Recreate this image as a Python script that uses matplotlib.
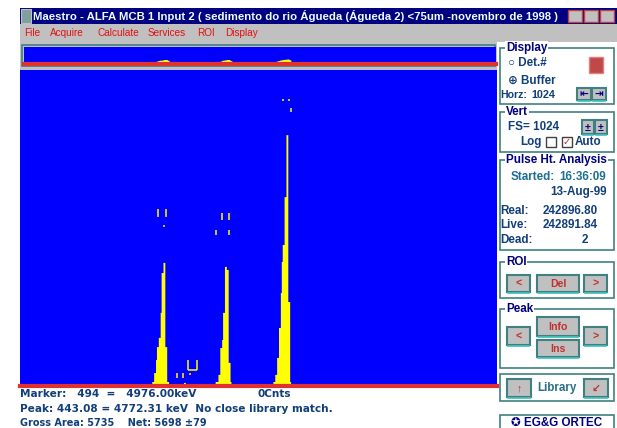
import matplotlib
matplotlib.use("Agg")
import matplotlib.pyplot as plt
import numpy as np
from matplotlib.patches import Rectangle

W, H = 617, 428

# spectrum, 2-channel bins: start channel + counts per bin
bin_width = 2
n_channels = 1024
full_scale = 1024
peak1_start = 278
peak1_counts = [6, 6, 6, 13, 13, 42, 42, 84, 126, 126, 156, 156, 237, 366, 366, 399, 399, 126, 126, 13, 13]
small_start = 350
small_counts = [4, 10, 10, 4]
peak2_start = 418
peak2_counts = [4, 13, 13, 13, 36, 36, 123, 123, 149, 237, 237, 386, 386, 376, 376, 75, 75, 13, 4]
peak3_start = 536
peak3_counts = [3, 3, 3, 3, 13, 13, 36, 36, 91, 91, 188, 188, 301, 402, 457, 457, 612, 612, 813, 813, 272, 272, 13, 5]
stray_channels = [598, 664, 1006, 1014]
stray_counts = [4, 3, 3, 3]

# yellow label fragments drawn above the peaks: (channel, low count, high count)
label_ticks = [(296, 548, 574), (313, 548, 574), (309, 515, 522),
               (434, 538, 561), (449, 538, 561), (421, 489, 505), (449, 489, 505),
               (565, 923, 930), (578, 923, 930), (582, 888, 901),
               (361, 52, 84), (380, 52, 84), (337, 26, 42), (350, 26, 42), (365, 36, 42)]

title = "Maestro - ALFA MCB 1 Input 2 ( sedimento do rio Águeda (Águeda 2) <75um -novembro de 1998 )"
menu_items = ["File", "Acquire", "Calculate", "Services", "ROI", "Display"]
menu_x = [24, 50, 97, 148, 197, 225]
status_lines = ["Marker:   494  =   4976.00keV", "Peak: 443.08 = 4772.31 keV  No close library match.",
                "Gross Area: 5735    Net: 5698 ±79"]

NAVY = "#000080"
GRAY = "#c0c0c0"
TEAL = "#408080"
TXT = "#123f78"
FONTS = ["Liberation Sans", "DejaVu Sans"]
PS = 8.4  # panel text size

edges = np.arange(0, n_channels + 1, bin_width)
counts = np.zeros(len(edges) - 1)
for start, vals in [(peak1_start, peak1_counts), (small_start, small_counts),
                    (peak2_start, peak2_counts), (peak3_start, peak3_counts)]:
    i0 = start // bin_width
    counts[i0:i0 + len(vals)] = vals
for ch, c in zip(stray_channels, stray_counts):
    counts[ch // bin_width] = c


def frac(x0, y0, x1, y1):
    return [x0 / W, 1 - y1 / H, (x1 - x0) / W, (y1 - y0) / H]


fig = plt.figure(figsize=(W / 100, H / 100), dpi=100)
ui = fig.add_axes([0, 0, 1, 1])
ui.set_xlim(0, W)
ui.set_ylim(H, 0)
ui.axis("off")


def rect(x0, y0, x1, y1, fc, ec="none", lw=0, z=1):
    ui.add_patch(Rectangle((x0, y0), x1 - x0, y1 - y0, facecolor=fc, edgecolor=ec, lw=lw, zorder=z))


def txt(x, y, s, color=TXT, size=PS, weight="bold", ha="left", family=FONTS, **kw):
    ui.text(x, y, s, color=color, fontsize=size, fontweight=weight, ha=ha, va="center",
            family=family, zorder=5, **kw)


def group(x0, y0, x1, y1, label):
    rect(x0, y0, x1, y1, "white", TEAL, 1.2, z=2)
    ui.text(x0 + 6, y0, label, color=NAVY, fontsize=PS, fontweight="bold", va="center",
            family=FONTS, zorder=5, bbox=dict(facecolor="white", edgecolor="none", pad=0.5))


def button(x0, y0, x1, y1, label="", color="#c03030"):
    rect(x0, y0, x1, y1, GRAY, TEAL, 1.5, z=3)
    ui.plot([x0 + 1, x1 - 1], [y1 + 1, y1 + 1], color="#40c0c0", lw=1.2, zorder=3)
    if label:
        txt((x0 + x1) / 2, (y0 + y1) / 2 + 0.5, label, color=color, ha="center", size=7.6)


# title bar and menu
rect(20, 8, W, 24, NAVY)
rect(21, 9, 31, 23, "#80a0a0", "#c0c0c0", 0.8, z=2)
txt(33, 16, title, color="#e8ffff", size=8.2)
for bx in [568, 584, 600]:
    rect(bx, 10, bx + 14, 22, GRAY, "#c04040", 1, z=3)
rect(20, 24, W, 42, GRAY)
for name, mx in zip(menu_items, menu_x):
    txt(mx, 33, name, color="#e01010", size=7.2, weight="normal")

# overview frame
rect(20, 42, 497, 70, GRAY)
rect(22, 45, 495, 66, "none", TEAL, 1.2, z=2)

# right panel
group(500, 48, 614, 104, "Display")
txt(508, 63, "○ Det.#")
txt(508, 81, "⊕ Buffer")
txt(500, 95, "Horz:", size=7.6)
txt(531, 95, "1024", size=7.8)
rect(589, 57, 603, 73, "#c04848", "#e08080", 1, z=3)
button(577, 88, 591, 100, "⇤", color=NAVY)
button(592, 88, 606, 100, "⇥", color=NAVY)

group(500, 112, 614, 152, "Vert")
txt(508, 127, "FS= 1024")
button(582, 120, 594, 134, "±", color=NAVY)
button(595, 120, 607, 134, "±", color=NAVY)
txt(520, 142, "Log")
rect(546, 137, 556, 147, "white", "#404040", 1, z=3)
rect(562, 137, 572, 147, "white", "#404040", 1, z=3)
txt(567, 142, "✓", color="#c02020", ha="center", size=7)
txt(575, 142, "Auto")

group(500, 160, 614, 250, "Pulse Ht. Analysis")
txt(511, 177, "Started:", color="#1d6f92")
txt(606, 177, "16:36:09", color="#1d6f92", ha="right")
txt(607, 192, "13-Aug-99", ha="right")
txt(500, 211, "Real:")
txt(598, 211, "242896.80", ha="right")
txt(500, 225, "Live:")
txt(598, 225, "242891.84", ha="right")
txt(500, 240, "Dead:")
txt(582, 240, "2")

group(500, 262, 614, 298, "ROI")
button(507, 275, 530, 292, "<")
button(537, 275, 579, 292, "Del")
button(584, 275, 607, 292, ">")

group(500, 309, 614, 368, "Peak")
button(507, 327, 530, 345, "<")
button(537, 317, 579, 336, "Info")
button(537, 340, 579, 357, "Ins")
button(584, 327, 607, 345, ">")

rect(500, 374, 614, 401, "white", TEAL, 1.2, z=2)
button(507, 379, 531, 397, "↑")
txt(557, 388, "Library", color="#2a6f8a", ha="center")
button(584, 379, 608, 397, "↙")

rect(500, 415, 614, 430, "white", TEAL, 1.2, z=2)
txt(557, 423, "✪ EG&G ORTEC", color=NAVY, ha="center")

# status text
SF = ["DejaVu Sans"]
txt(20, 394, status_lines[0], size=7.6, family=SF)
txt(258, 394, "0Cnts", size=7.6, family=SF)
txt(20, 409, status_lines[1], size=7.6, family=SF)
txt(20, 423, status_lines[2], size=7.0, family=SF)

# spectrum axes: overview strip (log) and main view
ov = fig.add_axes(frac(24, 47, 496, 64))
main = fig.add_axes(frac(20, 70, 497, 386))
ov.set_yscale("log")
ov.stairs(np.maximum(counts, 1), edges, baseline=1, fill=True, color="#ffff00")
ov.set_ylim(1, 1e11)
main.stairs(counts, edges, fill=True, color="#ffff00")
main.set_ylim(0, full_scale)
for ax in [ov, main]:
    ax.set_facecolor("#0000ff")
    ax.set_xlim(0, n_channels)
    ax.set_xticks([], minor=False)
    ax.set_yticks([], minor=False)
    ax.set_yticks([], minor=True)
    for s in ax.spines.values():
        s.set_visible(False)
    ax.axhline(ax.get_ylim()[0], color="#e03030", lw=3, clip_on=False)

for ch, lo, hi in label_ticks:
    main.vlines(ch, lo, hi, color="#ffff00", lw=1.1)
main.hlines(52, 361, 380, color="#ffff00", lw=1.1)

fig.savefig("out.png", dpi=100)
